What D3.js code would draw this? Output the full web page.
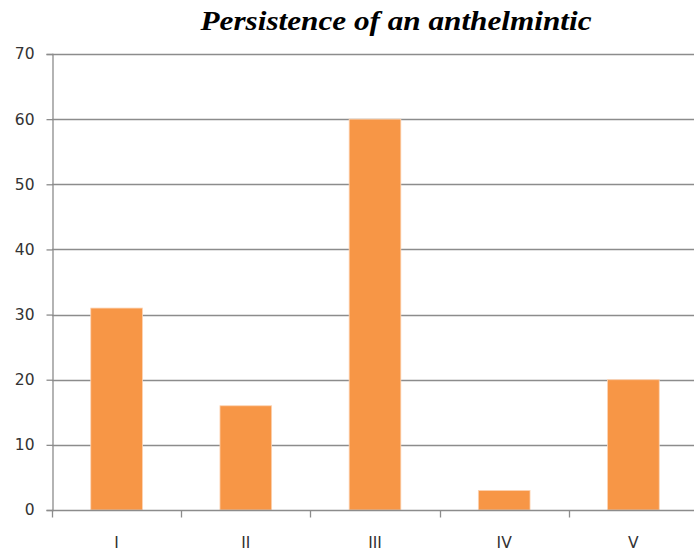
<!DOCTYPE html>
<html>
<head>
<meta charset="utf-8">
<script src="https://cdn.jsdelivr.net/npm/d3@7"></script>
<style>
  html, body { margin: 0; padding: 0; background: #fff; }
  svg { display: block; }
</style>
</head>
<body>
<svg id="chart" width="694" height="551"></svg>
<script>
// Persistence per group
const categories = ["I", "II", "III", "IV", "V"];
const values = [31, 16, 60, 3, 20];
const yTicks = [0, 10, 20, 30, 40, 50, 60, 70];
const titleText = "Persistence of an anthelmintic";

const svg = d3.select("#chart");
const plot = { left: 52, right: 698, top: 54, bottom: 510 };

const x = d3.scaleBand()
  .domain(categories)
  .range([plot.left, plot.right])
  .paddingInner(0)
  .paddingOuter(0);

const y = d3.scaleLinear()
  .domain([0, 70])
  .range([plot.bottom, plot.top]);

const gridColor = "#8c8c8c";
const labelColor = "#333333";
const labelFont = "Verdana, 'DejaVu Sans', sans-serif";

// Horizontal gridlines
svg.append("g")
  .selectAll("line")
  .data(yTicks.filter(d => d > 0))
  .join("line")
  .attr("x1", plot.left)
  .attr("x2", plot.right)
  .attr("y1", d => Math.round(y(d)) + 0.5)
  .attr("y2", d => Math.round(y(d)) + 0.5)
  .attr("stroke", gridColor)
  .attr("stroke-width", 1.3);

// Bars (bar width = 40% of the category step)
const barW = x.step() * 0.4;
svg.append("g")
  .selectAll("rect")
  .data(values)
  .join("rect")
  .attr("x", (d, i) => x(categories[i]) + (x.step() - barW) / 2)
  .attr("y", d => y(d))
  .attr("width", barW)
  .attr("height", d => y(0) - y(d))
  .attr("fill", "#f79646")
  .attr("stroke", "#fcd3b3")
  .attr("stroke-width", 0.8);

// Y axis
const yAxis = d3.axisLeft(y)
  .tickValues(yTicks)
  .tickSize(6)
  .tickPadding(12)
  .tickFormat(d3.format("d"));

const gy = svg.append("g")
  .attr("transform", `translate(${plot.left + 0.5},0)`)
  .call(yAxis);
gy.select(".domain").attr("stroke", gridColor).attr("stroke-width", 1.3);
gy.selectAll(".tick line").attr("stroke", gridColor).attr("stroke-width", 1.3);
gy.selectAll(".tick text")
  .attr("fill", labelColor)
  .style("font-family", labelFont)
  .style("font-size", "15.5px");

// X axis with boundary ticks between categories
const gx = svg.append("g")
  .attr("transform", `translate(0,${Math.round(y(0)) + 0.5})`);
gx.append("line")
  .attr("x1", plot.left)
  .attr("x2", plot.right)
  .attr("stroke", gridColor)
  .attr("stroke-width", 1.3);
gx.selectAll("line.tick")
  .data(categories)
  .join("line")
  .attr("class", "tick")
  .attr("x1", d => Math.round(x(d)) + 0.5)
  .attr("x2", d => Math.round(x(d)) + 0.5)
  .attr("y1", 0)
  .attr("y2", 7)
  .attr("stroke", gridColor)
  .attr("stroke-width", 1.3);
gx.selectAll("text")
  .data(categories)
  .join("text")
  .attr("x", d => x(d) + x.bandwidth() / 2)
  .attr("y", 37)
  .attr("text-anchor", "middle")
  .attr("fill", labelColor)
  .style("font-family", labelFont)
  .style("font-size", "15.5px")
  .text(d => d);

// Title
svg.append("text")
  .attr("x", 396)
  .attr("y", 29.5)
  .attr("text-anchor", "middle")
  .attr("textLength", 391)
  .attr("lengthAdjust", "spacingAndGlyphs")
  .style("font-family", "'Liberation Serif', 'DejaVu Serif', serif")
  .style("font-weight", "bold")
  .style("font-style", "italic")
  .style("font-size", "28px")
  .attr("fill", "#000")
  .text(titleText);
</script>
</body>
</html>
